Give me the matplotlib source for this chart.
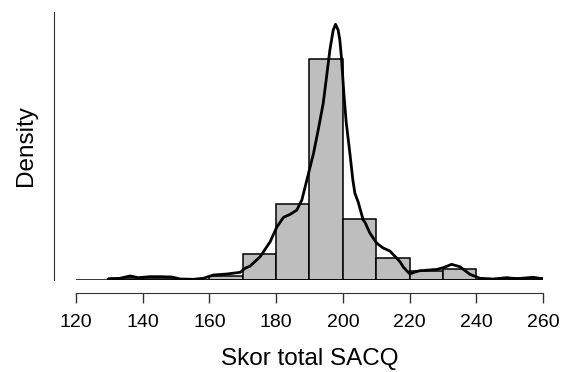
import matplotlib
matplotlib.use("Agg")
from matplotlib import pyplot as plt
import numpy as np

plt.rcParams['font.family'] = ['Liberation Sans', 'DejaVu Sans']

# histogram of total SACQ score (counts per 10-point bin)
bin_edges = [130, 140, 150, 160, 170, 180, 190, 200, 210, 220, 230, 240, 250, 260]
bin_counts = [1, 1, 0, 2, 12, 35, 102, 28, 10, 4, 5, 0, 1]

# density curve (score, density)
curve_x = [129.7, 133.2, 136.2, 138.7, 142.2, 145.2, 148.7, 151.2, 155.2, 158.2,
           161.2, 165.2, 169.2, 170.7, 172.2, 175.2, 178.2, 180.2, 182.2, 184.2,
           186.2, 187.7, 189.2, 191.2, 192.6, 194.1, 195.1, 196.1, 197.1, 197.8,
           198.6, 199.1, 199.6, 200.3, 201.0, 202.1, 203.0, 203.6, 204.6, 205.1,
           206.1, 206.6, 208.1, 210.1, 212.1, 214.1, 216.1, 217.2, 218.1, 220.1,
           221.6, 223.1, 224.1, 227.1, 228.1, 230.1, 232.6, 235.1, 238.1, 241.1,
           245.1, 249.1, 252.1, 257.1, 260.1]
curve_y = [0.00011, 0.00039, 0.00092, 0.00053, 0.00076, 0.00076, 0.00069, 0.00023, 0.00016, 0.00039,
           0.00114, 0.00137, 0.00176, 0.00268, 0.00320, 0.00533, 0.00877, 0.01213, 0.01435, 0.01504,
           0.01602, 0.01831, 0.02289, 0.02900, 0.03433, 0.04044, 0.04646, 0.05264, 0.05722, 0.05859,
           0.05722, 0.05493, 0.05074, 0.04273, 0.03616, 0.02907, 0.02289, 0.01991, 0.01785, 0.01648,
           0.01373, 0.01328, 0.01076, 0.00847, 0.00732, 0.00664, 0.00504, 0.00412, 0.00298, 0.00137,
           0.00183, 0.00213, 0.00217, 0.00236, 0.00240, 0.00282, 0.00359, 0.00304, 0.00130, 0.00039,
           0.00023, 0.00053, 0.00030, 0.00062, 0.00023]

centers = [(a + b) / 2 for a, b in zip(bin_edges[:-1], bin_edges[1:])]

fig = plt.figure(figsize=(5.63, 3.72), dpi=100)
ax = fig.add_axes([76 / 563, 1 - 280 / 372, (543 - 76) / 563, (280 - 12) / 372])

ax.hist(centers, bins=bin_edges, weights=bin_counts, density=True,
        color='#bebebe', edgecolor='black', linewidth=1.1, zorder=2)
ax.axhline(0, color='black', linewidth=1.1, zorder=3)
ax.plot(curve_x, curve_y, color='black', linewidth=2.0, zorder=4)

ax.set_xlim(120, 260)
ax.set_ylim(0, 0.0614)
ax.set_xticks(range(120, 261, 20))
ax.set_yticks([])

for s in ['top', 'right']:
    ax.spines[s].set_visible(False)
# offsets in points (22 px and 13 px at 100 dpi)
ax.spines['left'].set_position(('outward', 15.8))
ax.spines['bottom'].set_position(('outward', 9.4))
ax.spines['left'].set_color('#333333')
ax.spines['bottom'].set_color('#333333')
ax.tick_params(axis='x', length=7, width=1, color='#333333', labelsize=14, pad=7.8)

ax.set_xlabel('Skor total SACQ', fontsize=17.5, labelpad=12.5)
ax.set_ylabel('Density', fontsize=17.5, labelpad=12)

fig.savefig('out.png', dpi=100)
